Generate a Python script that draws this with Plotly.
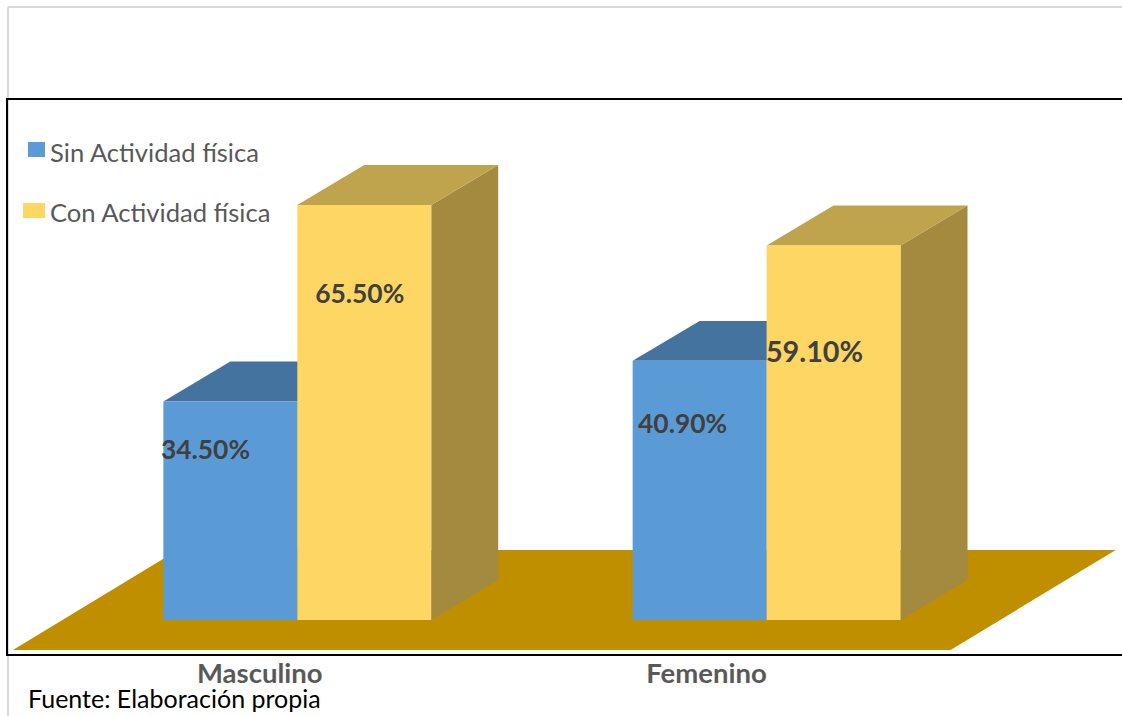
import plotly.graph_objects as go

# Survey results by sex, in percent
categories = ["Masculino", "Femenino"]
sin_actividad = [34.5, 40.9]
con_actividad = [65.5, 59.1]
series_names = ["Sin Actividad física", "Con Actividad física"]
source_note = "Fuente: Elaboración propia"

# Column geometry in axis units: category 0 sits at x=0, category 1 at x=1
BAR_WIDTH = 0.2854
DEPTH_X = 0.1427
DEPTH_Y = 6.31
tick_positions = [-0.08, 0.872]

# Floor plane of the pseudo-3D scene, axis units
floor_x = [-0.606, 1.392, 1.744, -0.2545]
floor_y = [-4.73, -4.73, 11.05, 11.05]

# Text anchors and sizes for the value labels
label_x_sin = [-0.1956, 0.821]
label_y_sin = [26.5, 30.6]
label_size_sin = [26.4, 26.4]
label_x_con = [0.133, 1.1021]
label_y_con = [51.15, 41.8]
label_size_con = [26.4, 28.8]

BLUE, BLUE_TOP, BLUE_SIDE = "#5B9BD5", "#44739F", "#44739F"
YELLOW, YELLOW_TOP, YELLOW_SIDE = "#FDD663", "#BFA34D", "#A38A3E"
FLOOR = "#BF8F00"
FONT = "Lato"


def path(xs, ys):
    pts = [f"{x},{y}" for x, y in zip(xs, ys)]
    return "M" + " L".join(pts) + " Z"


def face_shape(xs, ys, color):
    return dict(type="path", path=path(xs, ys), xref="x", yref="y",
                fillcolor=color, line=dict(width=0), layer="below")


def extrusion(x_left, value, top_color, side_color):
    """Top and side faces of a column whose front starts at x_left."""
    x_right = x_left + BAR_WIDTH
    top = face_shape(
        [x_left, x_right, x_right + DEPTH_X, x_left + DEPTH_X],
        [value, value, value + DEPTH_Y, value + DEPTH_Y],
        top_color,
    )
    side = face_shape(
        [x_right, x_right + DEPTH_X, x_right + DEPTH_X, x_right],
        [0, DEPTH_Y, value + DEPTH_Y, value],
        side_color,
    )
    return [side, top]


positions = list(range(len(categories)))
fig = go.Figure()

fig.add_bar(x=positions, y=sin_actividad, width=BAR_WIDTH, offset=-BAR_WIDTH,
            marker=dict(color=BLUE, line=dict(width=0)), name=series_names[0])
fig.add_bar(x=positions, y=con_actividad, width=BAR_WIDTH, offset=0,
            marker=dict(color=YELLOW, line=dict(width=0)), name=series_names[1])

fig.add_scatter(x=label_x_sin, y=label_y_sin, mode="text",
                text=[f"{v:.2f}%" for v in sin_actividad],
                textposition="middle center",
                textfont=dict(family=FONT, size=label_size_sin, color="#404040", weight="bold"))
fig.add_scatter(x=label_x_con, y=label_y_con, mode="text",
                text=[f"{v:.2f}%" for v in con_actividad],
                textposition="middle center",
                textfont=dict(family=FONT, size=label_size_con, color="#404040", weight="bold"))

shapes = [face_shape(floor_x, floor_y, FLOOR)]
for i, pos in enumerate(positions):
    shapes += extrusion(pos - BAR_WIDTH, sin_actividad[i], BLUE_TOP, BLUE_SIDE)
for i, pos in enumerate(positions):
    shapes += extrusion(pos, con_actividad[i], YELLOW_TOP, YELLOW_SIDE)

W, H = 1122, 716
LEFT, TOP, BOTTOM = 8, 100, 654


def px_x(px):
    return (px - LEFT) / (W - LEFT)


def px_y(px):
    return (BOTTOM - px) / (BOTTOM - TOP)


# Outer grey frame above and beside the plot area
for x0, y0, x1, y1 in [(8, 7, 8, 716), (8, 7, 1122, 7)]:
    shapes.append(dict(type="line", xref="paper", yref="paper",
                       x0=px_x(x0), x1=px_x(x1), y0=px_y(y0), y1=px_y(y1),
                       line=dict(color="#D9D9D9", width=2), layer="below"))

# Legend swatches
for (x0, x1, y0, y1), color in [((28, 45, 142, 157), BLUE), ((23, 45, 203, 218), YELLOW)]:
    shapes.append(dict(type="rect", xref="paper", yref="paper",
                       x0=px_x(x0), x1=px_x(x1), y0=px_y(y0), y1=px_y(y1),
                       fillcolor=color, line=dict(width=0)))

annotations = [
    dict(xref="paper", yref="paper", x=px_x(48), y=px_y(yc), text=name, showarrow=False,
         xanchor="left", yanchor="middle", font=dict(family=FONT, size=25.6, color="#595959"))
    for name, yc in zip(series_names, [152, 212])
]
annotations.append(dict(xref="paper", yref="paper", x=px_x(26), y=px_y(698), text=source_note,
                        showarrow=False, xanchor="left", yanchor="middle",
                        font=dict(family=FONT, size=25, color="#000000")))

X_SCALE = 469.3
Y_SCALE = 6.336
ORIGIN_X = 297.3
fig.update_layout(
    width=W, height=H, autosize=False,
    margin=dict(l=LEFT, r=0, t=TOP, b=H - BOTTOM),
    paper_bgcolor="white", plot_bgcolor="white",
    showlegend=False, barmode="overlay",
    shapes=shapes, annotations=annotations,
    xaxis=dict(
        range=[(LEFT - ORIGIN_X) / X_SCALE, (W - ORIGIN_X) / X_SCALE],
        tickvals=tick_positions, ticktext=categories, ticks="",
        ticklabelstandoff=-6,
        showgrid=False, zeroline=False,
        showline=True, linecolor="black", linewidth=2, mirror=True,
        tickfont=dict(family=FONT, size=27.5, color="#595959", weight="bold"),
    ),
    yaxis=dict(
        range=[(620 - BOTTOM) / Y_SCALE, (620 - TOP) / Y_SCALE],
        showticklabels=False, ticks="", showgrid=False, zeroline=False,
        showline=True, linecolor="black", linewidth=2,
    ),
)

fig.write_html("out.html", config={"displayModeBar": False})
